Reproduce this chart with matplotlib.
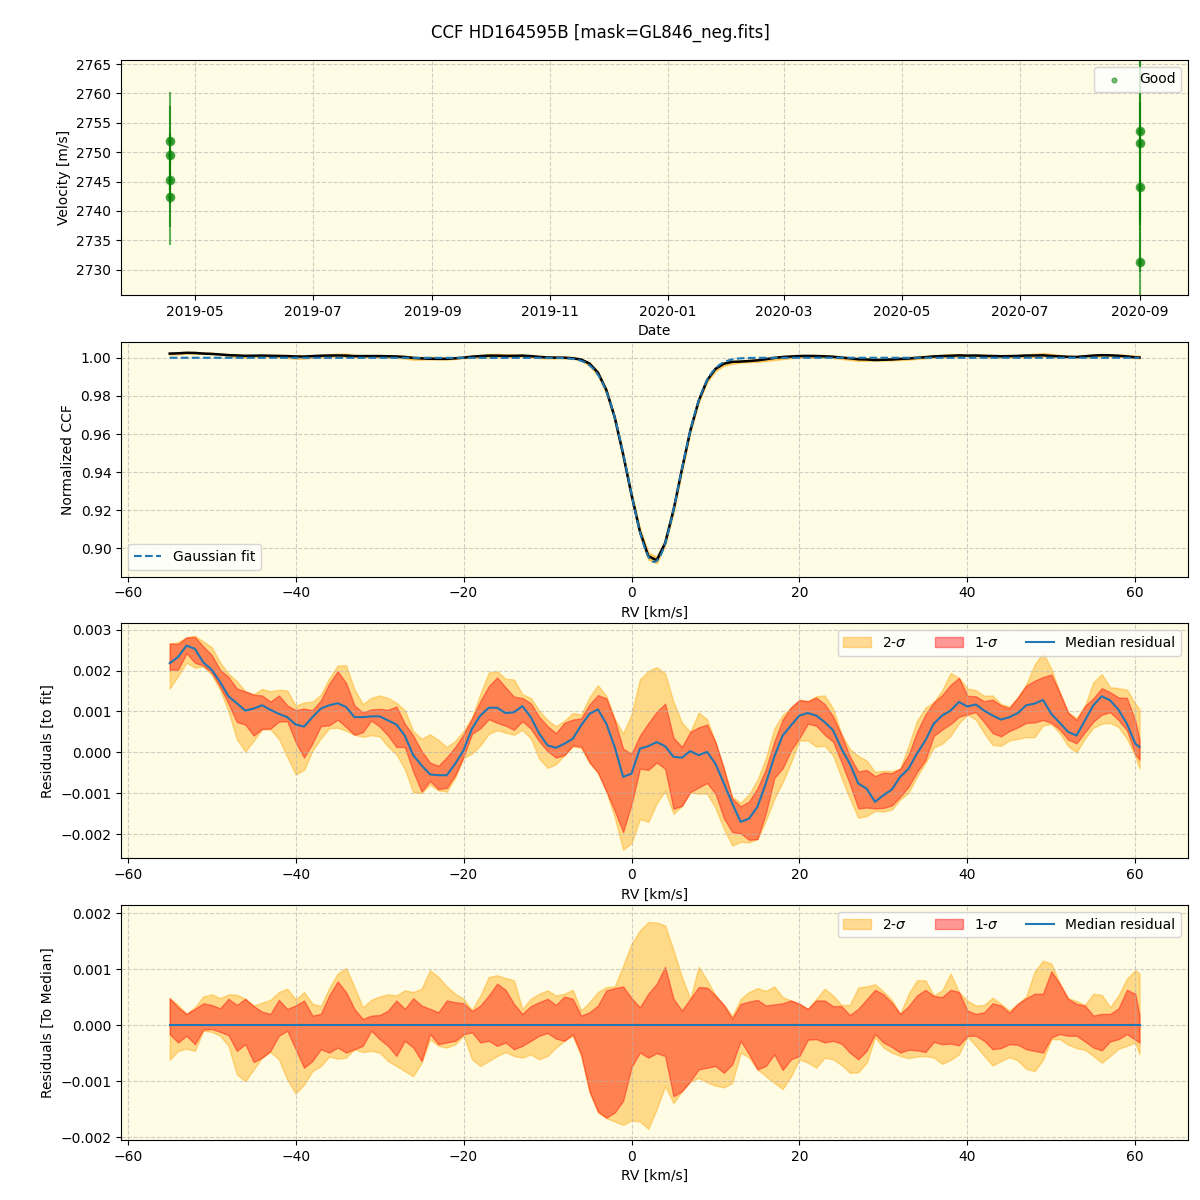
import numpy as np
import pandas as pd
import matplotlib
matplotlib.use('Agg')
import matplotlib.pyplot as plt
import matplotlib.dates as mdates

# 观测数据 (速度)
obs_dates = pd.to_datetime(['2019-04-18', '2019-04-18', '2019-04-18', '2019-04-18',
                            '2020-09-01', '2020-09-01', '2020-09-01', '2020-09-01'])
obs_vel = [2751.9, 2749.5, 2745.3, 2742.4, 2753.6, 2751.6, 2744.1, 2731.3]
obs_err = [8.3, 8.4, 8.0, 8.2, 15.0, 14.0, 14.5, 14.0]

# RV 网格 (km/s)
rv = np.append(np.arange(-55.0, 61.0, 1.0), 60.5)

# 高斯拟合参数
g_depth = 0.107
g_center = 2.7
g_sigma = 3.0

# 中位残差 (单位 1e-3)
med_res = [2.18, 2.33, 2.61, 2.53, 2.20, 2.02, 1.72, 1.37, 1.20, 1.02,
           1.07, 1.15, 1.04, 0.94, 0.86, 0.68, 0.63, 0.86, 1.07, 1.15,
           1.20, 1.11, 0.86, 0.86, 0.88, 0.88, 0.78, 0.68, 0.41, -0.07,
           -0.32, -0.54, -0.56, -0.56, -0.28, 0.05, 0.58, 0.90, 1.09, 1.09,
           0.96, 0.98, 1.13, 0.86, 0.46, 0.17, 0.11, 0.21, 0.33, 0.66,
           0.94, 1.05, 0.70, 0.13, -0.60, -0.52, 0.09, 0.15, 0.25, 0.15,
           -0.11, -0.13, 0.03, -0.07, 0.01, -0.28, -0.76, -1.25, -1.70, -1.62,
           -1.33, -0.76, -0.11, 0.41, 0.66, 0.90, 0.96, 0.90, 0.74, 0.54,
           0.09, -0.28, -0.76, -0.89, -1.21, -1.05, -0.91, -0.60, -0.40, -0.03,
           0.29, 0.70, 0.90, 1.02, 1.23, 1.12, 1.17, 1.02, 0.90, 0.80,
           0.86, 0.96, 1.15, 1.19, 1.28, 0.94, 0.72, 0.50, 0.41, 0.78,
           1.15, 1.37, 1.27, 1.04, 0.70, 0.21, 0.13]

# 相对中位数的 1-sigma / 2-sigma 上下界 (单位 1e-3)
up1 = [0.48, 0.32, 0.20, 0.29, 0.39, 0.36, 0.30, 0.47, 0.36, 0.47,
       0.34, 0.24, 0.20, 0.45, 0.29, 0.35, 0.44, 0.17, 0.20, 0.53,
       0.78, 0.59, 0.29, 0.11, 0.17, 0.18, 0.26, 0.44, 0.29, 0.48,
       0.35, 0.29, 0.23, 0.44, 0.41, 0.39, 0.25, 0.35, 0.53, 0.74,
       0.63, 0.38, 0.20, 0.34, 0.41, 0.47, 0.36, 0.51, 0.47, 0.17,
       0.23, 0.35, 0.62, 0.66, 0.69, 0.48, 0.32, 0.56, 0.74, 1.04,
       0.47, 0.26, 0.47, 0.68, 0.67, 0.53, 0.36, 0.12, 0.38, 0.42,
       0.45, 0.35, 0.37, 0.39, 0.44, 0.38, 0.29, 0.44, 0.44, 0.34,
       0.34, 0.18, 0.29, 0.46, 0.63, 0.55, 0.40, 0.20, 0.34, 0.53,
       0.63, 0.52, 0.50, 0.63, 0.59, 0.26, 0.20, 0.23, 0.39, 0.35,
       0.22, 0.38, 0.48, 0.56, 0.56, 0.96, 0.74, 0.47, 0.38, 0.35,
       0.17, 0.20, 0.20, 0.30, 0.63, 0.56, 0.17]
lo1 = [-0.16, -0.31, -0.19, -0.34, -0.08, -0.07, -0.12, -0.18, -0.46, -0.34,
       -0.66, -0.58, -0.46, -0.19, -0.10, -0.43, -0.76, -0.64, -0.43, -0.49,
       -0.40, -0.49, -0.43, -0.37, -0.10, -0.25, -0.37, -0.55, -0.28, -0.40,
       -0.64, -0.16, -0.34, -0.31, -0.28, -0.16, -0.13, -0.31, -0.28, -0.37,
       -0.31, -0.43, -0.37, -0.28, -0.19, -0.14, -0.24, -0.28, -0.16, -0.52,
       -1.18, -1.54, -1.65, -1.56, -1.35, -0.75, -0.49, -0.58, -0.50, -0.55,
       -1.27, -1.18, -1.00, -0.79, -0.76, -0.73, -0.85, -0.70, -0.28, -0.52,
       -0.79, -0.73, -0.52, -0.80, -0.61, -0.55, -0.26, -0.25, -0.31, -0.28,
       -0.33, -0.49, -0.61, -0.46, -0.16, -0.31, -0.39, -0.49, -0.44, -0.45,
       -0.48, -0.30, -0.34, -0.33, -0.36, -0.19, -0.19, -0.28, -0.43, -0.41,
       -0.34, -0.35, -0.43, -0.46, -0.49, -0.22, -0.16, -0.19, -0.19, -0.29,
       -0.40, -0.45, -0.29, -0.25, -0.16, -0.26, -0.31]
up2 = [0.48, 0.36, 0.20, 0.32, 0.51, 0.55, 0.48, 0.55, 0.54, 0.47,
       0.35, 0.40, 0.45, 0.59, 0.65, 0.46, 0.59, 0.38, 0.34, 0.66,
       0.92, 1.02, 0.68, 0.32, 0.45, 0.51, 0.55, 0.53, 0.62, 0.59,
       0.65, 0.98, 0.86, 0.69, 0.56, 0.47, 0.27, 0.53, 0.86, 0.89,
       0.84, 0.80, 0.29, 0.47, 0.56, 0.62, 0.53, 0.56, 0.63, 0.26,
       0.41, 0.59, 0.68, 0.69, 1.06, 1.45, 1.69, 1.84, 1.83, 1.78,
       1.34, 0.86, 0.47, 1.04, 0.80, 0.53, 0.36, 0.16, 0.47, 0.59,
       0.66, 0.61, 0.69, 0.50, 0.44, 0.38, 0.29, 0.47, 0.65, 0.53,
       0.36, 0.36, 0.67, 0.69, 0.73, 0.60, 0.45, 0.20, 0.56, 0.80,
       0.80, 0.53, 0.62, 0.92, 0.59, 0.44, 0.35, 0.36, 0.49, 0.38,
       0.26, 0.38, 0.51, 0.95, 1.15, 1.10, 0.74, 0.48, 0.43, 0.36,
       0.56, 0.54, 0.32, 0.53, 0.83, 0.98, 0.92]
lo2 = [-0.62, -0.46, -0.42, -0.46, -0.10, -0.12, -0.19, -0.37, -0.88, -1.00,
       -0.79, -0.58, -0.48, -0.61, -0.97, -1.22, -1.06, -0.82, -0.73, -0.56,
       -0.60, -0.58, -0.43, -0.48, -0.46, -0.49, -0.64, -0.73, -0.82, -0.91,
       -0.67, -0.25, -0.37, -0.40, -0.34, -0.19, -0.61, -0.73, -0.64, -0.55,
       -0.48, -0.55, -0.58, -0.52, -0.61, -0.55, -0.40, -0.28, -0.19, -0.55,
       -1.20, -1.56, -1.66, -1.72, -1.78, -1.70, -1.72, -1.85, -1.50, -1.09,
       -1.39, -1.18, -1.01, -0.94, -1.02, -1.08, -1.11, -1.03, -0.49, -0.58,
       -0.79, -0.91, -1.03, -1.14, -0.91, -0.61, -0.67, -0.76, -0.58, -0.61,
       -0.71, -0.85, -0.84, -0.67, -0.22, -0.40, -0.49, -0.55, -0.59, -0.56,
       -0.55, -0.58, -0.69, -0.62, -0.52, -0.20, -0.37, -0.55, -0.72, -0.64,
       -0.57, -0.63, -0.78, -0.82, -0.62, -0.25, -0.25, -0.35, -0.41, -0.44,
       -0.55, -0.67, -0.55, -0.42, -0.37, -0.31, -0.52]

med = np.array(med_res) * 1e-3
u1 = np.array(up1) * 1e-3
l1 = np.array(lo1) * 1e-3
u2 = np.array(up2) * 1e-3
l2 = np.array(lo2) * 1e-3


def gauss_fit(x):
    return 1.0 - g_depth * np.exp(-(x - g_center) ** 2 / (2 * g_sigma ** 2))


ccf = gauss_fit(rv) + med
rv_fine = np.linspace(rv.min(), rv.max(), 1200)

bg = '#fefce4'
fig, axes = plt.subplots(4, 1, figsize=(12, 12), dpi=100)
fig.subplots_adjust(left=0.101, right=0.99, top=0.95, bottom=0.05, hspace=0.2)
fig.text(0.5, 0.973, 'CCF HD164595B [mask=GL846_neg.fits]', ha='center', va='center', fontsize=12)

for ax in axes:
    ax.set_facecolor(bg)
    ax.grid(True, linestyle='--', alpha=0.6)

# 速度时间序列
ax = axes[0]
ax.errorbar(obs_dates, obs_vel, yerr=obs_err, fmt='o', color='green', alpha=0.6, ms=6)
ax.scatter(obs_dates, obs_vel, s=12, color='green', alpha=0.5, label='Good', zorder=3)
ax.set_ylim(2725.7, 2765.7)
ax.xaxis.set_major_locator(mdates.MonthLocator(bymonth=[1, 3, 5, 7, 9, 11]))
ax.xaxis.set_major_formatter(mdates.DateFormatter('%Y-%m'))
ax.set_xlabel('Date')
ax.set_ylabel('Velocity [m/s]')
ax.legend(loc='upper right')

# CCF 与高斯拟合
ax = axes[1]
ax.fill_between(rv, ccf + l2, ccf + u2, color='orange', alpha=0.5)
ax.plot(rv, ccf, color='black', lw=1.8)
ax.plot(rv_fine, gauss_fit(rv_fine), '--', color='C0', lw=1.5, label='Gaussian fit')
ax.set_ylim(0.8853, 1.0084)
ax.set_xlabel('RV [km/s]')
ax.set_ylabel('Normalized CCF')
ax.legend(loc='lower left')

# 拟合残差
ax = axes[2]
ax.fill_between(rv, med + l2, med + u2, color='orange', alpha=0.4, label='2-$\\sigma$')
ax.fill_between(rv, med + l1, med + u1, color='red', alpha=0.4, label='1-$\\sigma$')
ax.plot(rv, med, color='C0', lw=1.5, label='Median residual')
ax.set_ylim(-0.00259, 0.00315)
ax.set_xlabel('RV [km/s]')
ax.set_ylabel('Residuals [to fit]')
ax.legend(loc='upper right', ncol=3)

# 相对中位数残差
ax = axes[3]
zero = np.zeros_like(rv)
ax.fill_between(rv, l2, u2, color='orange', alpha=0.4, label='2-$\\sigma$')
ax.fill_between(rv, l1, u1, color='red', alpha=0.4, label='1-$\\sigma$')
ax.plot(rv, zero, color='C0', lw=1.5, label='Median residual')
ax.set_ylim(-0.00205, 0.00214)
ax.set_xlabel('RV [km/s]')
ax.set_ylabel('Residuals [To Median]')
ax.legend(loc='upper right', ncol=3)

for ax in axes[1:]:
    ax.set_xlim(-60.775, 66.275)

fig.savefig('out.png', dpi=100)
